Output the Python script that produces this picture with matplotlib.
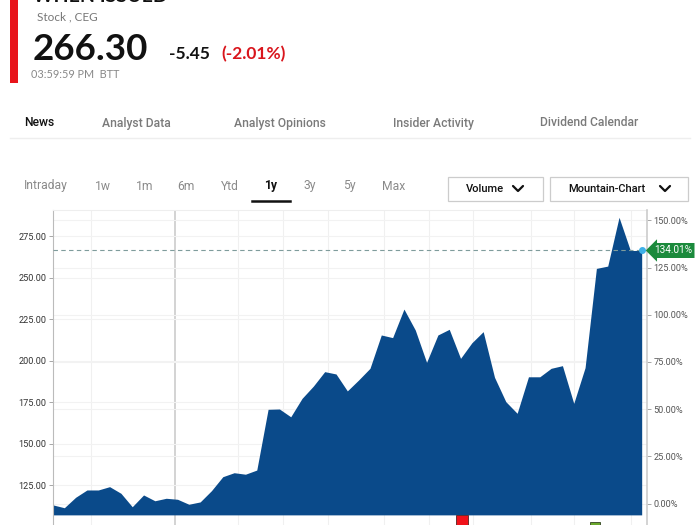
import matplotlib
matplotlib.use("Agg")
import matplotlib.pyplot as plt
from matplotlib.lines import Line2D
from matplotlib.patches import Rectangle
import numpy as np

# weekly closes over the past year
prices = [113.0, 111.3, 117.6, 122.0, 122.0, 124.0, 120.0, 111.9, 119.0, 115.5,
          117.0, 116.4, 113.4, 114.8, 121.6, 130.0, 132.4, 131.5, 134.0, 170.6,
          170.8, 166.1, 177.2, 184.6, 193.3, 191.9, 181.7, 188.3, 195.3, 215.4,
          213.8, 231.0, 218.4, 198.9, 215.4, 218.8, 201.3, 210.7, 217.4, 189.9,
          175.2, 168.2, 190.2, 190.2, 195.3, 196.9, 174.2, 195.7, 255.5, 256.9,
          286.3, 266.3, 266.3]
last_price = 266.30
change = -5.45
change_pct = -2.01
total_pct = 134.01
base_price = last_price / (1 + total_pct / 100)

price_ticks = [125, 150, 175, 200, 225, 250, 275]
pct_ticks = [0, 25, 50, 75, 100, 125, 150]
month_lines = [3.4, 10.8, 16.3, 20.3, 24.3, 29.2, 33.2, 37.1, 42.2, 46.0, 51.1]
year_line = 10.8

event_red = 36.1
event_green = 47.9

tabs = ["News", "Analyst Data", "Analyst Opinions", "Insider Activity", "Dividend Calendar"]
tab_x = [24, 102, 234, 393, 540]
ranges = ["Intraday", "1w", "1m", "6m", "Ytd", "1y", "3y", "5y", "Max"]
range_x = [24, 95, 136, 177, 221, 264, 303, 343, 382]

W, H = 700, 525
fig = plt.figure(figsize=(7, 5.25), dpi=100)
fig.patch.set_facecolor("white")


def fx(x):
    return x / W


def fy(y):
    return 1 - y / H


FONT = "Lato"

# header
fig.add_artist(Rectangle((fx(10), fy(83)), 8 / W, 83 / H, transform=fig.transFigure,
                         color="#e8141b", lw=0))
fig.text(fx(33), fy(2), "WHEN ISSUED", fontsize=14, fontweight="bold", family=FONT,
         color="#111", va="baseline")
fig.text(fx(37), fy(17), "Stock , CEG", fontsize=8.5, family=FONT, color="#777", va="center")
fig.text(fx(33), fy(60), f"{last_price:.2f}", fontsize=26.5, fontweight="bold", family=FONT,
         color="#111", va="baseline")
fig.text(fx(169), fy(59), f"{change:.2f}", fontsize=12.5, fontweight="bold", family=FONT,
         color="#111", va="baseline")
fig.text(fx(221), fy(59), f"({change_pct:.2f}%)", fontsize=12.5, fontweight="bold", family=FONT,
         color="#d9151c", va="baseline")
fig.text(fx(31), fy(75), "03:59:59 PM  BTT", fontsize=7.8, family=FONT, color="#888", va="center")

# tabs
for i, (t, x) in enumerate(zip(tabs, tab_x)):
    fig.text(fx(x), fy(123), t, fontsize=8.7, family="Roboto", va="center",
             color="#111" if i == 0 else "#7a7a7a", fontweight="medium")
fig.add_artist(Line2D([fx(10), fx(690)], [fy(138), fy(138)], color="#eeeeee", lw=1))

for t, x in zip(ranges, range_x):
    active = t == "1y"
    fig.text(fx(x), fy(186), t, fontsize=8.7, family="Roboto", va="center",
             color="#111" if active else "#8a8a8a", fontweight="bold" if active else "normal")
fig.add_artist(Line2D([fx(252), fx(290)], [fy(201), fy(201)], color="#111", lw=1.8))

# dropdown buttons
for x0, x1, label, cx in [(448, 543, "Volume", 518), (550, 688, "Mountain-Chart", 665)]:
    fig.add_artist(Rectangle((fx(x0), fy(201)), (x1 - x0) / W, 24 / H, transform=fig.transFigure,
                             facecolor="white", edgecolor="#cccccc", lw=0.9))
    fig.text(fx(x0 + 18), fy(189), label, fontsize=8, family="Roboto", fontweight="medium",
             color="#111", va="center")
    fig.add_artist(Line2D([fx(cx - 5), fx(cx), fx(cx + 5)], [fy(186), fy(191), fy(186)],
                          color="#111", lw=1.6, solid_capstyle="round"))

# chart
ax = fig.add_axes([fx(53), 0, (647 - 53) / W, (525 - 210) / H])
x = np.arange(len(prices))
ymin, ymax = 100.9, 290.7
fill_base = 107.0
ax.set_xlim(0, len(prices) - 1 + 0.47)
ax.set_ylim(ymin, ymax)

for m in month_lines:
    ax.axvline(m, color="#d0d0d0" if m == year_line else "#f0f0f0",
               lw=1.3 if m == year_line else 0.8, zorder=0)
for t in price_ticks:
    ax.axhline(t, color="#f2f2f2", lw=0.8, zorder=0)
for t in pct_ticks:
    ax.axhline(base_price * (1 + t / 100), color="#f2f2f2", lw=0.8, zorder=0)

ax.fill_between(x, prices, fill_base, color="#0a4a8a", lw=0, zorder=2)
ax.axhline(last_price, color="#7f9c9c", lw=0.8, ls=(0, (4, 3)), zorder=3)
ax.plot(x[-1], prices[-1], "o", color="#3fb0e8", ms=4, zorder=4, clip_on=False)

ax.bar([event_red], [fill_base - ymin + 2], bottom=ymin - 2, width=1.05,
       color="#f0121a", edgecolor="#552222", lw=0.6, zorder=3)
ax.bar([event_green], [2.2], bottom=ymin - 0.5, width=0.9,
       color="#6aa82c", edgecolor="#334422", lw=0.6, zorder=3, clip_on=True)

ax.set_yticks(price_ticks)
ax.set_yticklabels([f"{t:.2f}" for t in price_ticks])
ax.set_xticks([])
ax.tick_params(axis="y", labelsize=6.6, colors="#333", length=3, width=0.6, pad=1.5)
ax.tick_params(axis="y", color="#999")
for lbl in ax.get_yticklabels():
    lbl.set_family("Roboto")
ax.spines["left"].set_color("#bbbbbb")
ax.spines["top"].set_color("#eeeeee")
ax.spines["right"].set_visible(False)
ax.spines["bottom"].set_visible(False)

ax2 = ax.twinx()
ax2.set_ylim((ymin / base_price - 1) * 100, (ymax / base_price - 1) * 100)
ax2.set_yticks(pct_ticks)
ax2.set_yticklabels([f"{t:.2f}%" for t in pct_ticks])
ax2.tick_params(axis="y", labelsize=6.6, labelcolor="#555", color="#999", length=3, width=0.6, pad=1.5)
for lbl in ax2.get_yticklabels():
    lbl.set_family("Roboto")
ax2.spines["right"].set_color("#cccccc")
ax2.spines["right"].set_linewidth(1.2)
for s in ["left", "top", "bottom"]:
    ax2.spines[s].set_visible(False)

ax2.text(1.0 + 7 / 594, total_pct, f"{total_pct:.2f}%", transform=ax2.get_yaxis_transform(),
         fontsize=7.2, family="Roboto", color="white", va="center", ha="left", zorder=6,
         bbox=dict(boxstyle="larrow,pad=0.25", facecolor="#1b8a3c", edgecolor="none"),
         clip_on=False)

fig.savefig("out.png", dpi=100)
